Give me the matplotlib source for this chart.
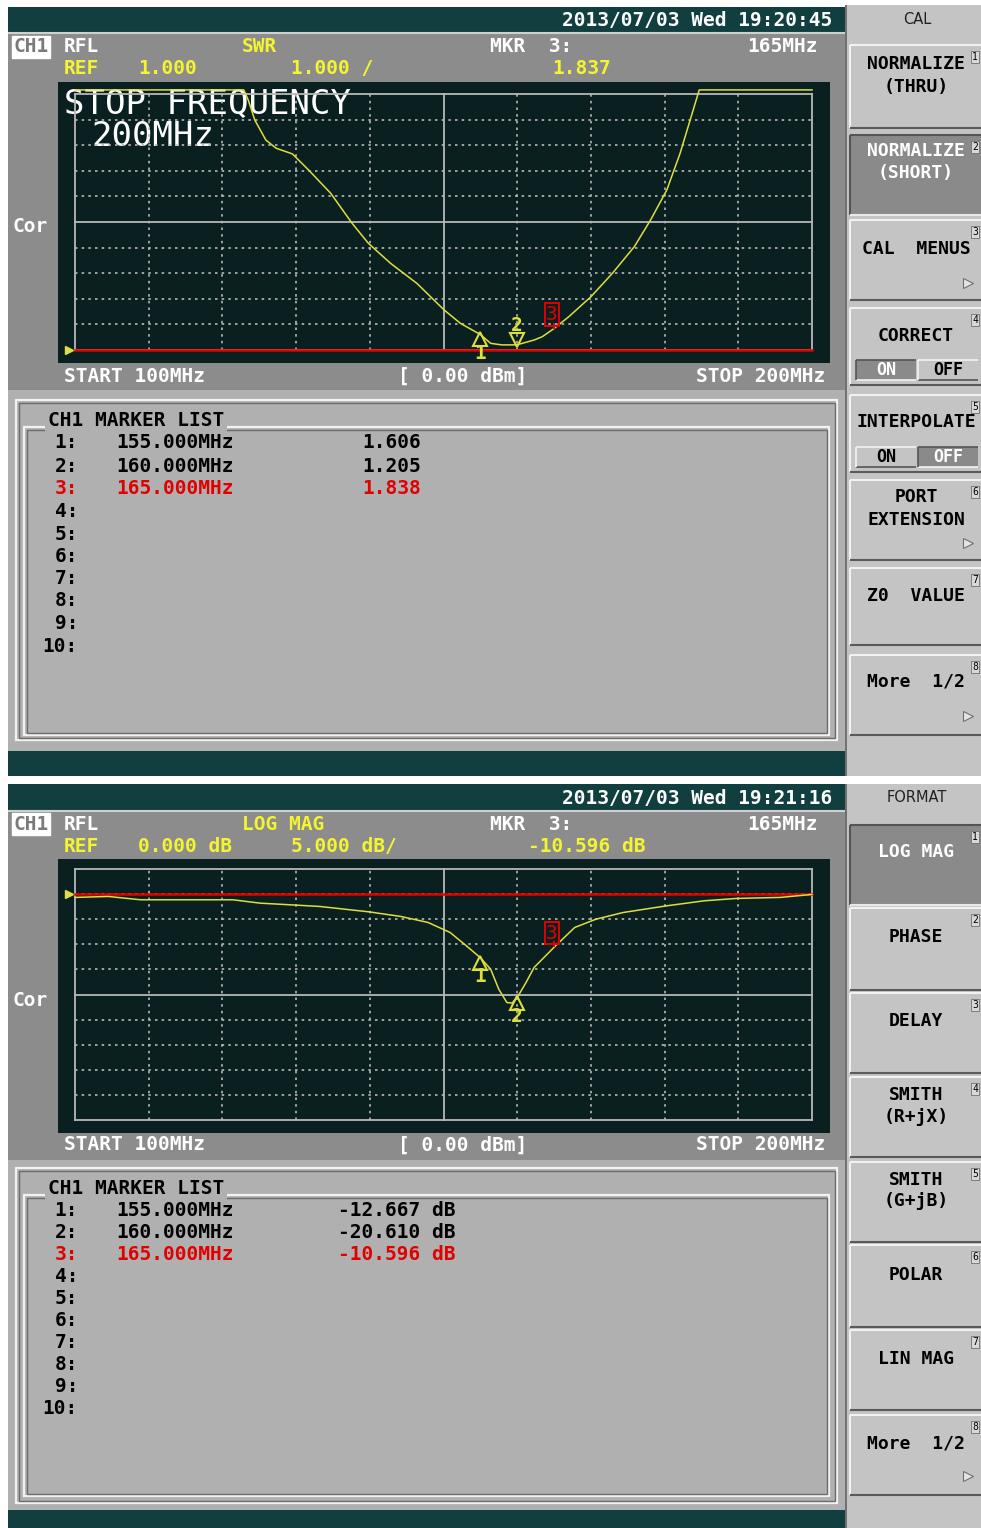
import matplotlib
matplotlib.use("Agg")
import matplotlib.pyplot as plt
from matplotlib.patches import Rectangle
from matplotlib.transforms import offset_copy

W, H = 981, 1528

# --- SWR trace, top screen (MHz, SWR) ---
swr_freq = [100.0, 122.9, 123.5, 124.4, 125.9, 127.3, 129.5, 131.7, 134.7, 137.6, 139.8,
            142.8, 146.4, 150.1, 152.3, 155.0, 156.4, 157.9, 159.3, 160.0, 162.3, 163.4,
            165.0, 167.0, 170.0, 172.9, 175.9, 178.1, 180.3, 182.1, 183.6, 184.7, 200.0]
swr_val = [11.16, 11.16, 10.77, 9.98, 9.2, 8.88, 8.66, 8.03, 7.12, 5.95, 5.17,
           4.39, 3.6, 2.56, 2.04, 1.606, 1.26, 1.2, 1.2, 1.205, 1.39, 1.52,
           1.838, 2.3, 3.08, 3.99, 5.04, 6.08, 7.25, 8.68, 10.11, 11.16, 11.16]

# --- LOG MAG trace, bottom screen (MHz, dB) ---
lm_freq = [100.0, 104.5, 108.9, 121.4, 125.1, 133.2, 139.8, 144.2, 147.9, 150.9,
           153.1, 155.0, 156.4, 157.5, 158.6, 159.3, 160.0, 161.2, 162.3, 165.0,
           167.8, 170.7, 174.4, 180.3, 185.4, 189.8, 195.7, 200.0]
lm_db = [-0.66, -0.47, -1.13, -1.13, -1.8, -2.46, -3.52, -4.45, -5.65, -7.65,
         -10.3, -12.667, -14.96, -18.95, -21.6, -21.7, -20.61, -17.6, -14.6, -10.596,
         -6.65, -4.99, -3.66, -2.33, -1.33, -0.86, -0.66, -0.07]

# markers
mkr_freq = [155.0, 160.0, 165.0]
mkr_swr = [1.606, 1.205, 1.838]
mkr_db = [-12.667, -20.610, -10.596]

cal_menu = [["NORMALIZE", "(THRU)"], ["NORMALIZE", "(SHORT)"], ["CAL  MENUS"], ["CORRECT"],
            ["INTERPOLATE"], ["PORT", "EXTENSION"], ["Z0  VALUE"], ["More  1/2"]]
fmt_menu = [["LOG MAG"], ["PHASE"], ["DELAY"], ["SMITH", "(R+jX)"], ["SMITH", "(G+jB)"],
            ["POLAR"], ["LIN MAG"], ["More  1/2"]]

TEAL = '#113f3f'
PANEL = '#8c8c8c'
LIST = '#b0b0b0'
MENU = '#c4c4c4'
SCREEN = '#0a2020'
GRID = '#b8b8b8'
TRACE = '#dede3c'
YEL = '#f4f430'
RED = '#e00000'
MONO = 'DejaVu Sans Mono'

fig = plt.figure(figsize=(W / 100, H / 100), dpi=100)
fig.patch.set_facecolor('white')
bg = fig.add_axes([0, 0, 1, 1])
bg.set_xlim(0, W)
bg.set_ylim(H, 0)
bg.axis('off')


def rect(x, y, w, h, fc, ec='none', lw=0, z=1):
    bg.add_patch(Rectangle((x, y), w, h, facecolor=fc, edgecolor=ec, linewidth=lw, zorder=z))


def line(xs, ys, c, lw=1.0, z=3):
    bg.plot(xs, ys, color=c, lw=lw, zorder=z, solid_capstyle='butt')


def txt(x, y, s, color='white', size=14, ha='left', weight='bold', family=MONO, z=5, **kw):
    bg.text(x, y, s, color=color, fontsize=size, ha=ha, va='center', fontweight=weight,
            family=family, zorder=z, **kw)


def button(x0, y0, x1, y1, pressed=False):
    rect(x0, y0, x1 - x0, y1 - y0, '#8a8a8a' if pressed else MENU, z=2)
    hi, lo = ('#555555', '#e8e8e8') if pressed else ('#f2f2f2', '#5a5a5a')
    line([x0, x1], [y0, y0], hi, 1.5)
    line([x0, x0], [y0, y1], hi, 1.5)
    line([x0, x1], [y1, y1], lo, 1.5)


def toggle(y0, y1, on):
    for (a, b, lab, sel) in [(856, 916, "ON", on), (918, 978, "OFF", not on)]:
        rect(a, y0, b - a, y1 - y0, '#8a8a8a' if sel else MENU, z=3)
        line([a, b], [y0, y0], '#555555' if sel else '#f2f2f2', 1.2, z=4)
        line([a, b], [y1, y1], '#f2f2f2' if sel else '#555555', 1.2, z=4)
        line([a, a], [y0, y1], '#555555' if sel else '#f2f2f2', 1.2, z=4)
        txt((a + b) / 2, (y0 + y1) / 2, lab, color='white' if sel else 'black', size=12, ha='center')


def tag(x, y, n):
    txt(x, y, str(n), color='black', size=7, ha='center', weight='normal',
        bbox=dict(boxstyle='square,pad=0.08', fc='#d8d8d8', ec='#707070', lw=0.6))


def arrow(x, y):
    bg.plot(x, y, marker='>', ms=7, mfc='#e4e4e4', mec='#707070', mew=0.8, zorder=5)


def menu(top, bottom, title, title_y, labels, spans, line_ys, pressed_idx):
    rect(845, top, W - 845, bottom - top, MENU, z=1)
    line([846, 846], [top, bottom], '#606060', 1.2)
    txt(917, title_y, title, color='#202020', size=10.5, ha='center', weight='normal',
        family='DejaVu Sans')
    for i, (lab, (y0, y1), ys) in enumerate(zip(labels, spans, line_ys)):
        sel = i == pressed_idx
        button(850, y0, W + 2, y1, sel)
        for s, yy in zip(lab, ys):
            txt(916, yy, s, color='white' if sel else 'black', size=13, ha='center')
        tag(975, y0 + 12, i + 1)


def screen(head, panel, plot, grid, rows12, cor_y, foot_y, lst, frame_o, frame_i, title_y,
           list_rows, tail, stamp, fmt, ref_a, ref_b, mkr_val):
    rect(8, head[0], 837, head[1] - head[0], TEAL)
    txt(832, (head[0] + head[1]) / 2 + 1, stamp, ha='right')
    rect(8, panel[0], 837, panel[1] - panel[0], PANEL)
    line([8, 845], [panel[0] + 1, panel[0] + 1], '#d0d0d0', 1.5)
    rect(58, plot[0], 772, plot[1] - plot[0], SCREEN, z=2)

    # channel header
    txt(31, rows12[0], "CH1", color='#7a7a7a', ha='center',
        bbox=dict(boxstyle='square,pad=0.08', fc='white', ec='white'))
    txt(64, rows12[0], "RFL")
    txt(242, rows12[0], fmt, color=YEL)
    txt(490, rows12[0], "MKR  3:")
    txt(818, rows12[0], "165MHz", ha='right')
    txt(64, rows12[1], "REF", color=YEL)
    txt(138, rows12[1], ref_a, color=YEL)
    txt(291, rows12[1], ref_b, color=YEL)
    txt(mkr_val[0], rows12[1], mkr_val[1], color=YEL)
    txt(13, cor_y, "Cor")
    txt(64, foot_y, "START 100MHz")
    txt(398, foot_y, "[ 0.00 dBm]")
    txt(825, foot_y, "STOP 200MHz", ha='right')

    # marker list panel
    rect(8, lst[0], 837, lst[1] - lst[0], LIST)
    for (x0, y0, x1, y1) in (frame_o, frame_i):
        bg.add_patch(Rectangle((x0, y0), x1 - x0, y1 - y0, fc='none', ec='#f2f2f2', lw=1.6, zorder=3))
        bg.add_patch(Rectangle((x0 + 2.5, y0 + 2.5), x1 - x0 - 5, y1 - y0 - 5, fc='none',
                               ec='#6c6c6c', lw=1.0, zorder=3))
    txt(48, title_y, "CH1 MARKER LIST", color='black',
        bbox=dict(boxstyle='square,pad=0.15', fc=LIST, ec='none'))
    for i, yy in enumerate(list_rows):
        c = RED if i == 2 else 'black'
        txt(78, yy, f"{i + 1}:", color=c, ha='right')
    rect(8, tail[0], 837, tail[1] - tail[0], TEAL)

    ax = fig.add_axes([75 / W, 1 - grid[1] / H, (812 - 75) / W, (grid[1] - grid[0]) / H])
    ax.set_zorder(3)
    ax.patch.set_alpha(0)
    ax.axis('off')
    ax.set_xlim(100, 200)
    return ax


def grid_lines(ax, ylo, yhi):
    step = (yhi - ylo) / 10
    ax.set_ylim(ylo, yhi)
    for i in range(11):
        solid = i in (0, 5, 10)
        ls = '-' if solid else (0, (1.5, 2.5))
        ax.axvline(100 + 10 * i, color=GRID, lw=1.3 if solid else 1.2, ls=ls, zorder=1, clip_on=False)
        ax.axhline(ylo + step * i, color=GRID, lw=1.3 if solid else 1.2, ls=ls, zorder=1, clip_on=False)


def off(ax, dx, dy):
    return offset_copy(ax.transData, fig=fig, x=dx, y=dy, units='dots')


def markers(ax, vals, second_down):
    for i, (f, v) in enumerate(zip(mkr_freq, vals)):
        if i == 2:
            ax.text(f, v, "3", color=RED, fontsize=14, family=MONO, ha='center', va='center',
                    transform=off(ax, -2, 14), zorder=7, clip_on=False,
                    bbox=dict(boxstyle='square,pad=0.08', fc='none', ec=RED, lw=1.4))
            ax.plot([f, f], [v, v], color=RED, marker='|', ms=5, mew=1.2,
                    transform=off(ax, 0, 3), zorder=6)
            continue
        down = second_down and i == 1
        ax.plot(f, v, marker='v' if down else '^', ms=10, mfc='none', mec=TRACE, mew=1.5,
                transform=off(ax, 0, 5 if down else -5), zorder=6, clip_on=False)
        ax.text(f, v, str(i + 1), color=TRACE, fontsize=14, family=MONO, fontweight='bold',
                ha='center', va='center', transform=off(ax, 0, 19 if down else -19),
                zorder=7, clip_on=False)


# ---------------- top screen: SWR ----------------
ax1 = screen(head=(7, 32), panel=(32, 390), plot=(82, 363), grid=(94, 350), rows12=(47, 69),
             cor_y=227, foot_y=376, lst=(390, 751), frame_o=(16, 400, 837, 740),
             frame_i=(24, 427, 829, 735), title_y=420,
             list_rows=[443, 466, 489, 511.5, 534, 556, 578.5, 601, 623.5, 646],
             tail=(751, 776), stamp="2013/07/03 Wed 19:20:45", fmt="SWR",
             ref_a="1.000", ref_b="1.000 /", mkr_val=(552, "1.837"))
grid_lines(ax1, 1, 11)
ax1.axhline(1, color=RED, lw=1.8, zorder=4, clip_on=False)
ax1.plot(100, 1, marker='>', ms=6, color=TRACE, transform=off(ax1, -6, 0), clip_on=False)
ax1.plot(swr_freq, swr_val, color=TRACE, lw=1.1, zorder=5, clip_on=False)
markers(ax1, mkr_swr, True)
txt(64, 105, "STOP FREQUENCY", size=24.5, weight='normal', z=8)
txt(91, 137, "200MHz", size=24.5, weight='normal', z=8)
for i, (f, v) in enumerate(zip(mkr_freq, mkr_swr)):
    c = RED if i == 2 else 'black'
    yy = [443, 466, 489][i]
    txt(116, yy, f"{f:.3f}MHz", color=c)
    txt(362, yy, f"{v:.3f}", color=c)

# ---------------- bottom screen: LOG MAG ----------------
ax2 = screen(head=(784, 810), panel=(810, 1160), plot=(859, 1133), grid=(869, 1120),
             rows12=(824, 846), cor_y=1000, foot_y=1145, lst=(1160, 1510),
             frame_o=(16, 1168, 837, 1503), frame_i=(24, 1195, 829, 1496), title_y=1189,
             list_rows=[1211, 1233, 1255, 1277, 1299, 1321, 1343, 1365, 1387, 1408],
             tail=(1510, 1528), stamp="2013/07/03 Wed 19:21:16", fmt="LOG MAG",
             ref_a="0.000 dB", ref_b="5.000 dB/", mkr_val=(528, "-10.596 dB"))
grid_lines(ax2, -45, 5)
ax2.axhline(0, color=RED, lw=1.8, zorder=4, clip_on=False)
ax2.plot(100, 0, marker='>', ms=6, color=TRACE, transform=off(ax2, -6, 0), clip_on=False)
ax2.plot(lm_freq, lm_db, color=TRACE, lw=1.1, zorder=5, clip_on=False)
markers(ax2, mkr_db, False)
for i, (f, v) in enumerate(zip(mkr_freq, mkr_db)):
    c = RED if i == 2 else 'black'
    yy = [1211, 1233, 1255][i]
    txt(116, yy, f"{f:.3f}MHz", color=c)
    txt(338, yy, f"{v:.3f} dB", color=c)

# ---------------- soft-key menus ----------------
menu(5, 776, "CAL", 20, cal_menu,
     [(45, 128), (135, 215), (220, 300), (308, 385), (395, 472), (480, 560), (568, 645), (655, 735)],
     [[64, 87], [151, 173], [249], [336], [422], [497, 520], [596], [682]], 1)
toggle(360, 380, True)
toggle(447, 467, False)
for yy in (283, 543, 716):
    arrow(968, yy)

menu(784, H, "FORMAT", 797, fmt_menu,
     [(825, 905), (908, 990), (993, 1073), (1077, 1157), (1162, 1242), (1245, 1327),
      (1330, 1410), (1415, 1495)],
     [[852], [937], [1021], [1095, 1117], [1180, 1201], [1275], [1359], [1444]], 0)
arrow(968, 1476)

fig.savefig("out.png", dpi=100, facecolor=fig.get_facecolor())
